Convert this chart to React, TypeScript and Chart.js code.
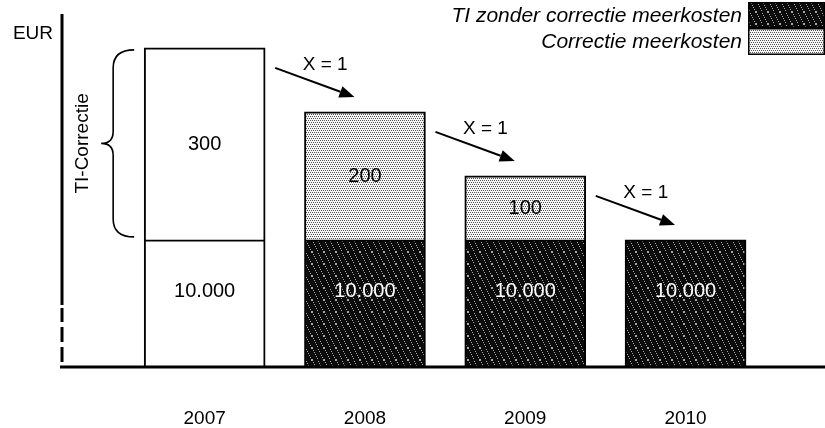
import React, { useEffect, useRef } from "react";
import { Chart, registerables } from "chart.js";

Chart.register(...registerables);

// ---- data ----
const years = [2007, 2008, 2009, 2010];
const tiBaseLabels = ["10.000", "10.000", "10.000", "10.000"];
// the y-axis is broken (dashed part), so the 10.000 base is drawn at this schematic height
const tiBaseDrawn = [197, 197, 197, 197];
const correction = [300, 200, 100, 0];
const correctionLabels = ["300", "200", "100", ""];
const seriesNames = ["TI zonder correctie meerkosten", "Correctie meerkosten"];
const arrowLabel = "X = 1";
const yAxisTitle = "EUR";
const braceLabel = "TI-Correctie";

const FONT = "'Liberation Sans', Arial, sans-serif";

function makePattern(kind: "dark" | "light") {
  const n = 12;
  const c = document.createElement("canvas");
  c.width = n;
  c.height = n;
  const g = c.getContext("2d")!;
  if (kind === "dark") {
    g.fillStyle = "#0c0c0c";
    g.fillRect(0, 0, n, n);
    g.fillStyle = "#a8a8a8";
    for (let y = 0; y < n; y++) {
      for (let x = 0; x < n; x++) {
        if ((x * 7 + y * 13) % 11 === 0) g.fillRect(x, y, 1, 1);
      }
    }
  } else {
    g.fillStyle = "#f6f6f6";
    g.fillRect(0, 0, n, n);
    g.fillStyle = "#555555";
    for (let y = 0; y < n; y += 2) {
      for (let x = (y / 2) % 2; x < n; x += 2) g.fillRect(x, y, 1, 1);
    }
  }
  return g.createPattern(c, "repeat")!;
}

function arrow(ctx: CanvasRenderingContext2D, x1: number, y1: number, x2: number, y2: number) {
  const ang = Math.atan2(y2 - y1, x2 - x1);
  const head = 15;
  const hw = 6;
  const bx = x2 - head * Math.cos(ang);
  const by = y2 - head * Math.sin(ang);
  ctx.beginPath();
  ctx.moveTo(x1, y1);
  ctx.lineTo(bx, by);
  ctx.lineWidth = 2;
  ctx.strokeStyle = "#000";
  ctx.stroke();
  ctx.beginPath();
  ctx.moveTo(x2, y2);
  ctx.lineTo(bx + hw * Math.sin(ang), by - hw * Math.cos(ang));
  ctx.lineTo(bx - hw * Math.sin(ang), by + hw * Math.cos(ang));
  ctx.closePath();
  ctx.fillStyle = "#000";
  ctx.fill();
}

export default function App() {
  const ref = useRef<HTMLCanvasElement | null>(null);

  useEffect(() => {
    const canvas = ref.current!;
    const dark = makePattern("dark");
    const light = makePattern("light");

    const overlay = {
      id: "overlay",
      afterDatasetsDraw(chart: any) {
        const ctx: CanvasRenderingContext2D = chart.ctx;
        const { chartArea, scales } = chart;
        const xs = scales.x;
        const ys = scales.y;
        const baseMeta = chart.getDatasetMeta(0);
        const halfW = baseMeta.data[0].width / 2;
        const b = chartArea.bottom;
        const L = chartArea.left;
        ctx.save();

        // axes
        ctx.strokeStyle = "#000";
        ctx.lineWidth = 3;
        ctx.beginPath();
        ctx.moveTo(L - 2, b + 1);
        ctx.lineTo(chart.width, b + 1);
        ctx.stroke();
        ctx.beginPath();
        ctx.moveTo(L, chartArea.top);
        ctx.lineTo(L, b - 61);
        [[58, 44], [39, 24], [19, 4]].forEach(([s, e]) => {
          ctx.moveTo(L, b - s);
          ctx.lineTo(L, b - e);
        });
        ctx.stroke();

        // EUR
        ctx.fillStyle = "#000";
        ctx.font = `19px ${FONT}`;
        ctx.textAlign = "right";
        ctx.textBaseline = "middle";
        ctx.fillText(yAxisTitle, L - 9, chartArea.top + 20);

        // value labels
        ctx.font = `20px ${FONT}`;
        ctx.textAlign = "center";
        years.forEach((yr, i) => {
          const cx = xs.getPixelForValue(yr);
          const yBaseTop = ys.getPixelForValue(tiBaseDrawn[i]);
          const yZero = ys.getPixelForValue(0);
          ctx.fillStyle = i === 0 ? "#000" : "#fff";
          ctx.fillText(tiBaseLabels[i], cx, (yBaseTop + yZero) / 2 - 11);
          if (correction[i] > 0) {
            const yTop = ys.getPixelForValue(tiBaseDrawn[i] + correction[i]);
            ctx.fillStyle = "#000";
            ctx.fillText(correctionLabels[i], cx, (yTop + yBaseTop) / 2 + 1);
          }
        });

        // arrows
        ctx.font = `19px ${FONT}`;
        for (let i = 0; i < years.length - 1; i++) {
          const top0 = ys.getPixelForValue(tiBaseDrawn[i] + correction[i]);
          const top1 = ys.getPixelForValue(tiBaseDrawn[i + 1] + correction[i + 1]);
          const x0 = xs.getPixelForValue(years[i]) + halfW + 10;
          const x1 = xs.getPixelForValue(years[i + 1]) - halfW + 50;
          const y0 = top0 + 20;
          const y1 = top1 - 15;
          arrow(ctx, x0, y0, x1, y1);
          ctx.fillStyle = "#000";
          ctx.textAlign = "center";
          ctx.fillText(arrowLabel, x0 + 50, y0 - 3);
        }

        // brace for 2007 correction
        const left07 = xs.getPixelForValue(years[0]) - halfW;
        const t = ys.getPixelForValue(tiBaseDrawn[0] + correction[0]) + 2;
        const bt = ys.getPixelForValue(tiBaseDrawn[0]) - 3;
        const mid = (t + bt) / 2;
        const xr = left07 - 10;
        const xm = left07 - 31;
        const xt = left07 - 43;
        ctx.beginPath();
        ctx.lineWidth = 1.6;
        ctx.moveTo(xr, t);
        ctx.quadraticCurveTo(xm, t, xm, t + 18);
        ctx.lineTo(xm, mid - 12);
        ctx.quadraticCurveTo(xm, mid, xt, mid);
        ctx.quadraticCurveTo(xm, mid, xm, mid + 12);
        ctx.lineTo(xm, bt - 18);
        ctx.quadraticCurveTo(xm, bt, xr, bt);
        ctx.stroke();
        ctx.save();
        ctx.translate(left07 - 61, mid);
        ctx.rotate(-Math.PI / 2);
        ctx.textAlign = "center";
        ctx.textBaseline = "middle";
        ctx.font = `19px ${FONT}`;
        ctx.fillText(braceLabel, 0, 0);
        ctx.restore();

        // legend
        const boxL = chart.width - 77;
        const rows = [
          { y0: 2, y1: 28, fill: dark },
          { y0: 28, y1: 55, fill: light },
        ];
        ctx.font = `italic 21px ${FONT}`;
        ctx.textAlign = "right";
        ctx.textBaseline = "middle";
        rows.forEach((r, i) => {
          ctx.fillStyle = r.fill;
          ctx.fillRect(boxL, r.y0, chart.width - boxL, r.y1 - r.y0);
          ctx.strokeStyle = "#000";
          ctx.lineWidth = 1.5;
          ctx.strokeRect(boxL + 0.75, r.y0 + 0.75, chart.width - boxL - 1.5, r.y1 - r.y0 - 1.5);
          ctx.fillStyle = "#000";
          ctx.fillText(chart.data.datasets[i].label, boxL - 6, (r.y0 + r.y1) / 2 + 1);
        });
        ctx.restore();
      },
    };

    const chart = new Chart(canvas, {
      type: "bar",
      data: {
        datasets: [
          {
            label: seriesNames[0],
            data: years.map((x, i) => ({ x, y: tiBaseDrawn[i] })),
            backgroundColor: years.map((_, i) => (i === 0 ? "#ffffff" : dark)),
            borderColor: "#000",
            borderWidth: 2,
            borderSkipped: "start",
            barThickness: 121,
          },
          {
            label: seriesNames[1],
            data: years
              .map((x, i) => ({ x, y: correction[i] }))
              .filter((d) => d.y > 0),
            backgroundColor: years.map((_, i) => (i === 0 ? "#ffffff" : light)),
            borderColor: "#000",
            borderWidth: 2,
            borderSkipped: "start",
            barThickness: 121,
          },
        ],
      } as any,
      options: {
        responsive: false,
        animation: false,
        layout: { padding: { left: 62, top: 14, right: 0, bottom: 0 } },
        plugins: { legend: { display: false }, tooltip: { enabled: false } },
        scales: {
          x: {
            type: "linear",
            stacked: true,
            offset: false,
            min: 2006.11,
            max: 2010.87,
            grid: { display: false, drawTicks: true, tickLength: 37 },
            border: { display: false },
            afterBuildTicks: (axis: any) => {
              axis.ticks = years.map((v) => ({ value: v }));
            },
            afterFit: (s: any) => {
              s.paddingLeft = 0;
              s.paddingRight = 0;
              s.height = 62;
            },
            ticks: {
              padding: 4,
              maxRotation: 0,
              autoSkip: false,
              color: "#000",
              font: { family: FONT, size: 19 },
              callback: (v: any) => String(v),
            },
          },
          y: { stacked: true, display: false, min: 0, max: 550 },
        },
      } as any,
      plugins: [overlay],
    });
    return () => chart.destroy();
  }, []);

  return (
    <div style={{ position: "absolute", left: 0, top: 0, width: 825, height: 428, background: "#fff" }}>
      <canvas ref={ref} width={825} height={428} style={{ display: "block" }} />
    </div>
  );
}
